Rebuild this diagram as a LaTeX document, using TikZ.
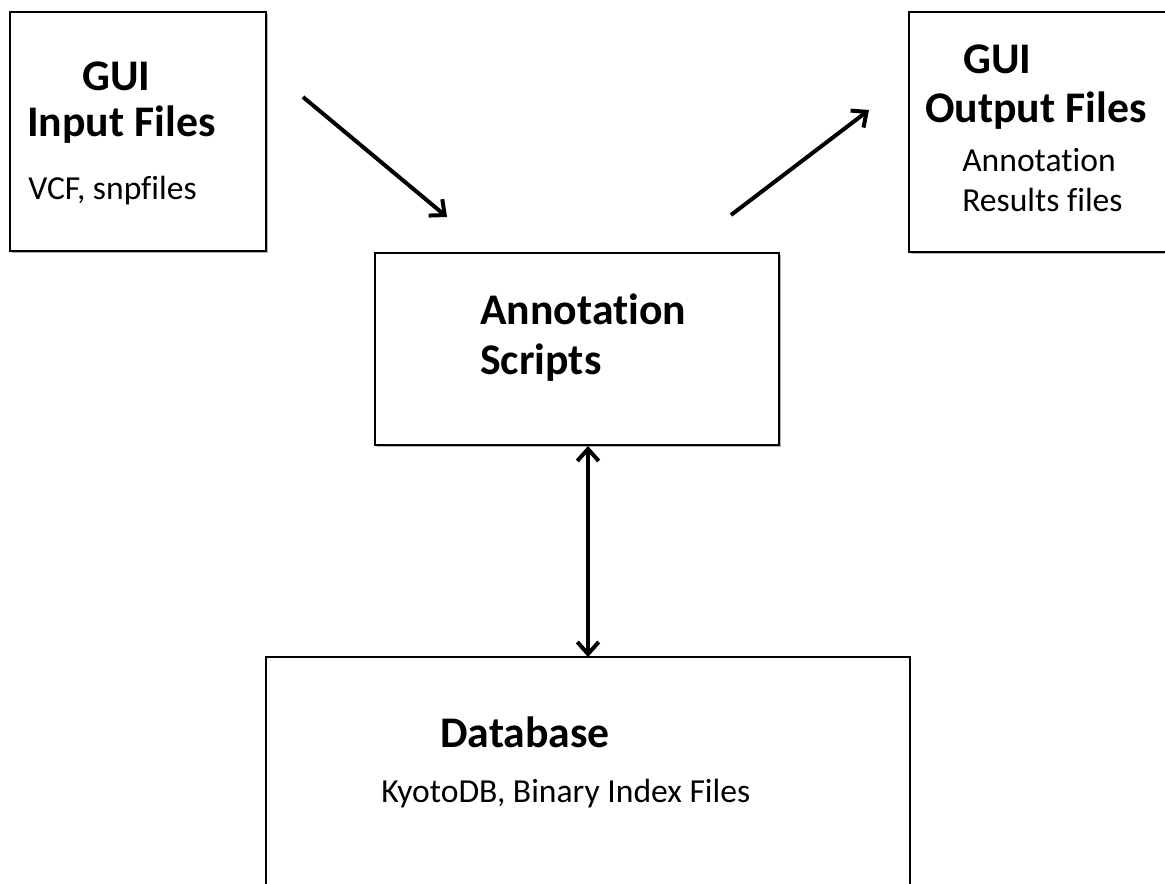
\documentclass[tikz,border=0pt]{standalone}
\usepackage{fontspec}
\setmainfont[Ligatures=CommonOff]{Carlito}
\usetikzlibrary{arrows.meta,shadows}
\begin{document}
\begin{tikzpicture}[x=0.75pt,y=-0.75pt,
  box/.style={draw=black,line width=1.5pt,fill=white,inner sep=0pt,
    drop shadow={shadow xshift=1.2pt,shadow yshift=-1.2pt,opacity=0.3,fill=black}},
  title/.style={font=\fontsize{32.8}{39}\selectfont\bfseries,anchor=base west,inner sep=0pt},
  sub/.style={font=\fontsize{25.2}{30}\selectfont,anchor=base west,inner sep=0pt},
  flow/.style={line width=3pt,-{Straight Barb[length=9pt,width=16pt,line width=3pt]}},
  biflow/.style={line width=3pt,{Straight Barb[length=9pt,width=16pt,line width=3pt]}-{Straight Barb[length=9pt,width=16pt,line width=3pt]}}]
\useasboundingbox (0,0) rectangle (1165,884);
% boxes
\node[box,minimum width=192pt,minimum height=179.25pt] (inp) at (138,131.5) {};
\node[box,minimum width=199.5pt,minimum height=180pt] (out) at (1042,132) {};
\node[box,minimum width=303pt,minimum height=144pt] (ann) at (577,349) {};
\node[box,minimum width=483pt,minimum height=182.25pt] (db) at (587.5,778.5) {};
% texts
\node[title] (inpT1) at (82,91) {GUI};
\node[title] (inpT2) at (27,137) {Input Files};
\node[sub] (inpS) at (28,200) {VCF, snpfiles};
\node[title] (outT1) at (963,74) {GUI};
\node[title] (outT2) at (925,123) {Output Files};
\node[sub] (outS1) at (962,172) {Annotation};
\node[sub] (outS2) at (962,212) {Results files};
\node[title] (annT1) at (480,325) {Annotation};
\node[title] (annT2) at (480,375) {Scripts};
\node[title] (dbT) at (440,747) {Database};
\node[sub] (dbS) at (381,802) {KyotoDB, Binary Index Files};
% connectors
\coordinate (a1s) at (303,97);
\coordinate (a1e) at (447,217);
\coordinate (a2s) at (731,215);
\coordinate (a2e) at (869,110);
\coordinate (a3s) at (588,446);
\coordinate (a3e) at (588,657);
\draw[flow] (a1s) -- (a1e);
\draw[flow] (a2s) -- (a2e);
\draw[biflow] (a3s) -- (a3e);
\end{tikzpicture}
\end{document}
